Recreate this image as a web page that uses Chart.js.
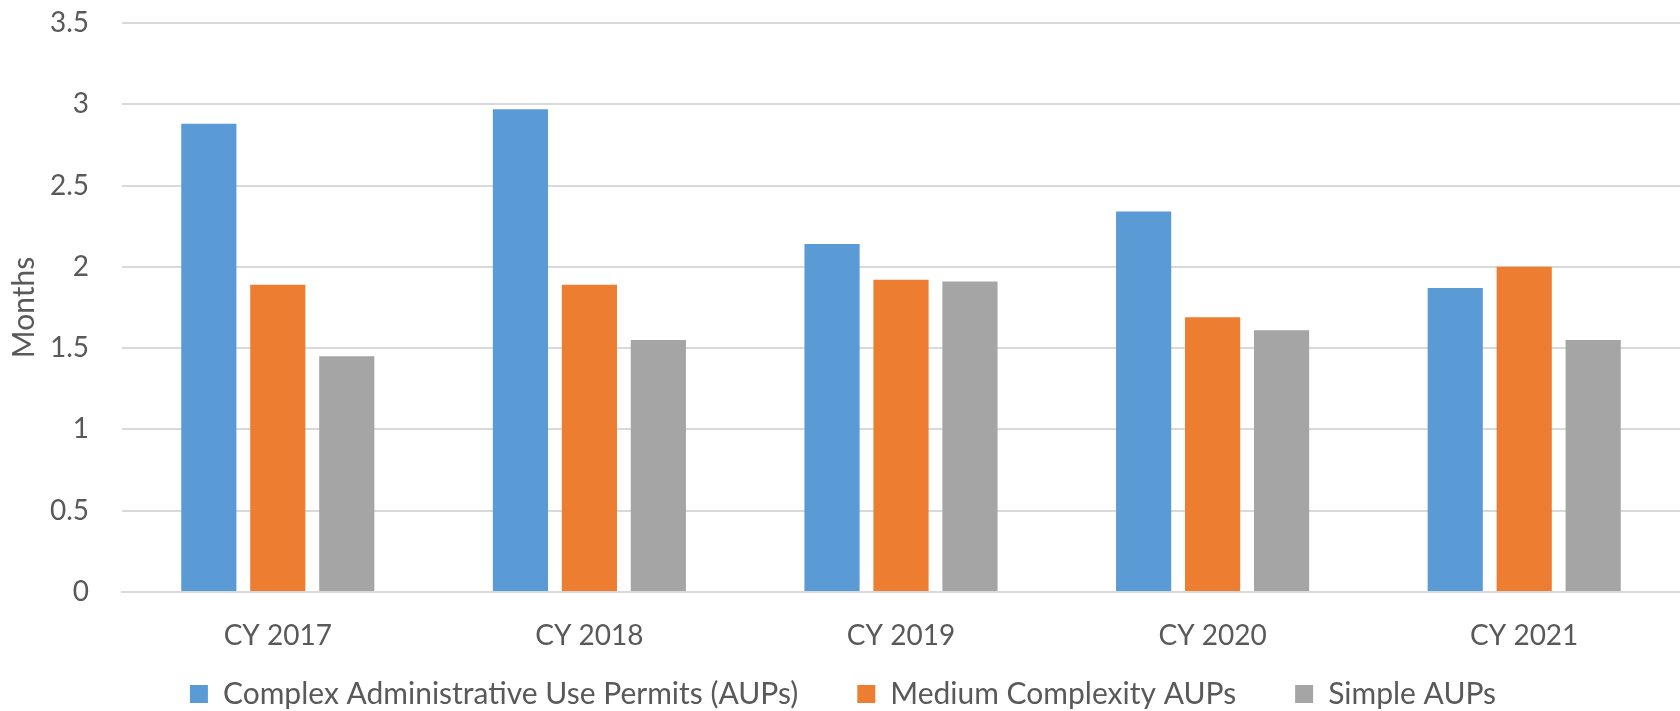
<!DOCTYPE html>
<html>
<head>
<meta charset="utf-8">
<script src="https://cdn.jsdelivr.net/npm/chart.js@4.4.1/dist/chart.umd.min.js"></script>
<style>
  html, body { margin: 0; padding: 0; background: #ffffff; }
  #wrap { position: relative; width: 1680px; height: 711px; }
</style>
</head>
<body>
<div id="wrap"><canvas id="c"></canvas></div>
<script>
const categories = ['CY 2017', 'CY 2018', 'CY 2019', 'CY 2020', 'CY 2021'];
const seriesNames = ['Complex Administrative Use Permits (AUPs)', 'Medium Complexity AUPs', 'Simple AUPs'];
const complexAUPs = [2.88, 2.97, 2.14, 2.34, 1.87];
const mediumAUPs = [1.89, 1.89, 1.92, 1.69, 2.00];
const simpleAUPs = [1.45, 1.55, 1.91, 1.61, 1.55];
const yTickLabels = ['0', '0.5', '1', '1.5', '2', '2.5', '3', '3.5'];
const yAxisTitle = 'Months';

const seriesColors = ['#5B9BD5', '#ED7D31', '#A5A5A5'];
const textColor = '#595959';
const gridColor = '#d9d9d9';
const fontFamily = 'Lato, "Open Sans", sans-serif';

const seriesValues = [complexAUPs, mediumAUPs, simpleAUPs];

new Chart(document.getElementById('c'), {
  type: 'bar',
  data: {
    labels: categories,
    datasets: seriesNames.map((name, i) => ({
      label: name,
      data: seriesValues[i],
      backgroundColor: seriesColors[i],
      borderWidth: 0,
      categoryPercentage: 0.664,
      barPercentage: 0.8
    }))
  },
  options: {
    responsive: true,
    maintainAspectRatio: false,
    animation: false,
    events: [],
    layout: { padding: { left: 6, right: 0, top: 0, bottom: 0 } },
    plugins: {
      tooltip: { enabled: false },
      legend: {
        position: 'bottom',
        align: 'center',
        maxHeight: 46,
        labels: {
          boxWidth: 18,
          boxHeight: 18,
          padding: 14,
          color: textColor,
          font: { family: fontFamily, size: 30 },
          generateLabels: (chart) => {
            const items = Chart.defaults.plugins.legend.labels.generateLabels(chart);
            items.forEach((it, i) => { if (i < items.length - 1) it.text += '\u2003\u2003'; });
            return items;
          }
        }
      }
    },
    scales: {
      x: {
        grid: { display: false, drawTicks: false },
        border: { display: true, color: gridColor, width: 2 },
        ticks: {
          color: textColor,
          padding: 27,
          maxRotation: 0,
          font: { family: fontFamily, size: 28 }
        },
        afterFit: (s) => { s.height = 73; }
      },
      y: {
        min: 0,
        max: 3.5,
        grid: { color: gridColor, lineWidth: 2, drawTicks: false },
        border: { display: false },
        ticks: {
          stepSize: 0.5,
          color: textColor,
          padding: 33,
          font: { family: fontFamily, size: 28 },
          callback: (v, i) => yTickLabels[i]
        },
        title: {
          display: true,
          text: yAxisTitle,
          color: textColor,
          padding: { top: 0, bottom: 0 },
          font: { family: fontFamily, size: 30 }
        },
        afterFit: (s) => { s.width = 116; s.paddingTop = 23; }
      }
    }
  }
});
</script>
</body>
</html>
